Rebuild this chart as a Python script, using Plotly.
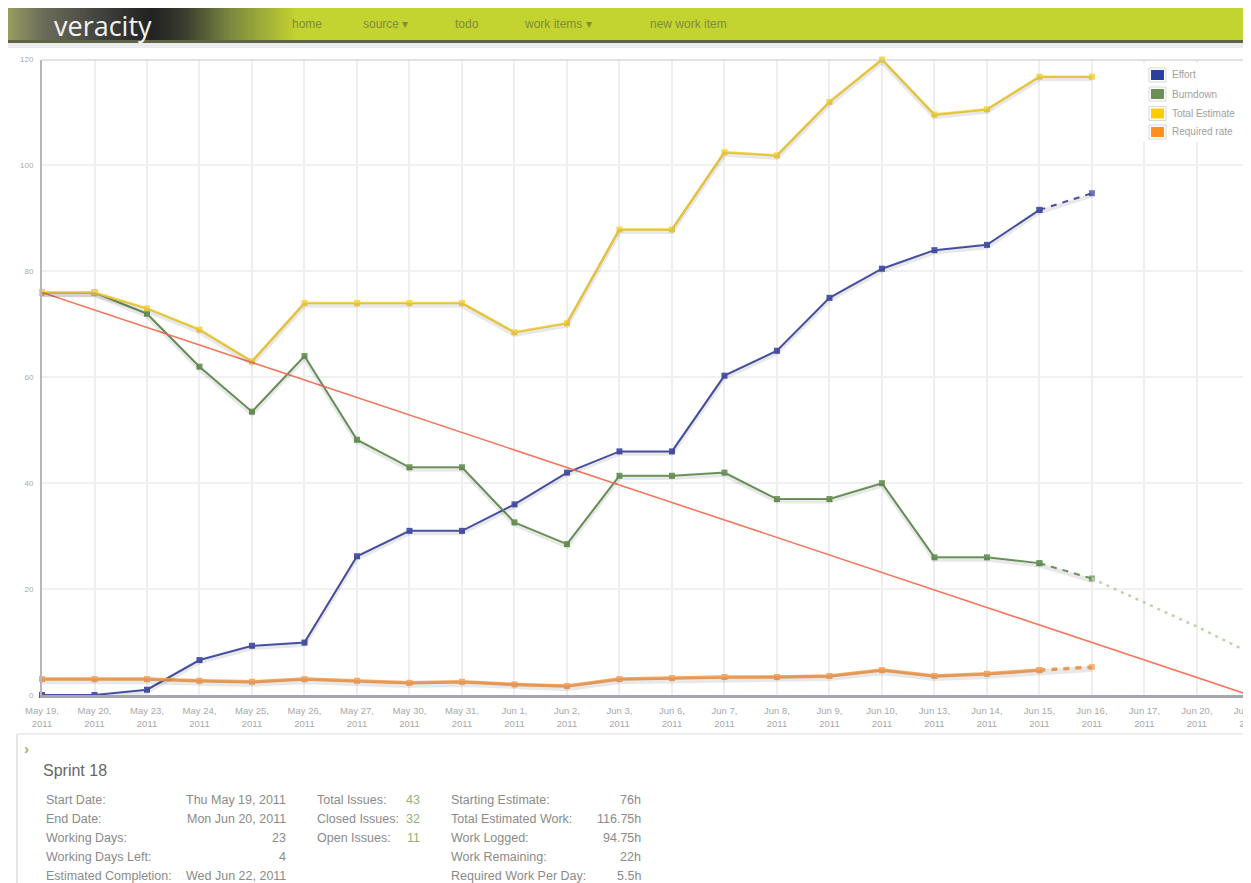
import numpy as np
import plotly.graph_objects as go

# The page body has an 8px margin, so the figure is laid out in page pixels
# and converted to figure-relative fractions.
OX, OY = 8, 8
PAGE_W, PAGE_H = 1251, 883
W, H = PAGE_W - OX, PAGE_H - OY

# ---------------- data ----------------
dates = ["May 19", "May 20", "May 23", "May 24", "May 25", "May 26", "May 27", "May 30", "May 31",
         "Jun 1", "Jun 2", "Jun 3", "Jun 6", "Jun 7", "Jun 8", "Jun 9", "Jun 10", "Jun 13", "Jun 14",
         "Jun 15", "Jun 16", "Jun 17", "Jun 20", "Jun 21"]
year = "2011"
effort = [0, 0, 1, 6.6, 9.3, 9.9, 26.2, 31, 31, 36, 42, 46, 46, 60.3, 65, 75, 80.5, 84, 85, 91.6, 94.75]
burndown = [76, 76, 72, 62, 53.5, 64, 48.2, 43, 43, 32.6, 28.5, 41.4, 41.4, 42, 37, 37, 40, 26, 26, 24.9, 22]
total_estimate = [76, 76, 73, 69, 63, 74, 74, 74, 74, 68.5, 70.2, 87.9, 87.9, 102.5, 101.9, 112, 120,
                  109.6, 110.6, 116.75, 116.75]
required_rate = [3, 3, 3, 2.7, 2.5, 3, 2.7, 2.3, 2.5, 2.0, 1.7, 3.0, 3.2, 3.4, 3.4, 3.6, 4.7, 3.6, 4.0, 4.7, 5.3]
projection_dates = ["Jun 16", "Jun 17", "Jun 20", "Jun 21"]
projection = [22, 17.5, 12.9, 8.0]
ideal_dates = ["May 19", "Jun 21"]
ideal = [76, 0]
y_ticks = [0, 20, 40, 60, 80, 100, 120]

legend_names = ["Effort", "Burndown", "Total Estimate", "Required rate"]
legend_colors = ["#2b3f9c", "#6b8f55", "#ffcc00", "#ff9020"]

sprint_title = "Sprint 18"
col1_labels = ["Start Date:", "End Date:", "Working Days:", "Working Days Left:", "Estimated Completion:"]
col1_values = ["Thu May 19, 2011", "Mon Jun 20, 2011", "23", "4", "Wed Jun 22, 2011"]
col2_labels = ["Total Issues:", "Closed Issues:", "Open Issues:"]
col2_values = ["43", "32", "11"]
col3_labels = ["Starting Estimate:", "Total Estimated Work:", "Work Logged:", "Work Remaining:",
               "Required Work Per Day:"]
col3_values = ["76h", "116.75h", "94.75h", "22h", "5.5h"]
menu_items = ["home", "source \u25BE", "todo", "work items \u25BE", "new work item"]
menu_x = [307, 386, 467, 558, 688]

# ---------------- helpers ----------------
def px(x):
    return (x - OX) / W


def py(y):
    return 1 - (y - OY) / H


FONT = "Liberation Sans, Arial, sans-serif"
n_solid = len(effort) - 1  # last point drawn dashed
solid_x = dates[:n_solid]
dash_x = dates[n_solid - 1:len(effort)]

series = [
    # name, values, color, width, dashed tail
    ("Effort", effort, "#4b55aa", 2, True),
    ("Burndown", burndown, "#6f9a5e", 2, True),
    ("Total Estimate", total_estimate, "#f8d64a", 2.5, False),
    ("Required rate", required_rate, "#f8a862", 3.5, True),
]

fig = go.Figure()

# shadows (same data on a slightly shifted overlay axis)
for name, vals, col, wdt, dashed in series:
    fig.add_trace(go.Scatter(x=dates[:len(vals)], y=vals, mode="lines", yaxis="y2",
                             line=dict(color="rgba(0,0,0,0.09)", width=wdt + 2.5),
                             hoverinfo="skip", showlegend=False, cliponaxis=False))

for name, vals, col, wdt, dashed in series:
    if dashed:
        fig.add_trace(go.Scatter(x=solid_x, y=vals[:n_solid], mode="lines+markers", name=name,
                                 line=dict(color=col, width=wdt),
                                 marker=dict(symbol="square", size=6, color=col),
                                 showlegend=False, cliponaxis=False))
        fig.add_trace(go.Scatter(x=dash_x, y=vals[n_solid - 1:], mode="lines+markers",
                                 line=dict(color=col, width=wdt, dash="6px,6px"),
                                 marker=dict(symbol="square", size=6, color=col, opacity=0.8),
                                 showlegend=False, cliponaxis=False))
    else:
        fig.add_trace(go.Scatter(x=dates[:len(vals)], y=vals, mode="lines+markers", name=name,
                                 line=dict(color=col, width=wdt),
                                 marker=dict(symbol="square", size=6, color=col),
                                 showlegend=False, cliponaxis=False))

# projection of burndown
fig.add_trace(go.Scatter(x=projection_dates, y=projection, mode="lines",
                         line=dict(color="#b9d5aa", width=2.5, dash="3px,5px"),
                         showlegend=False, cliponaxis=False))
# ideal line
fig.add_trace(go.Scatter(x=ideal_dates, y=ideal, mode="lines",
                         line=dict(color="#f4765e", width=1.6),
                         showlegend=False, cliponaxis=True))

shapes = []
annotations = []

# ---- header bar with gradient ----
stops_x = [8, 40, 110, 150, 185, 230, 295, PAGE_W]
stops_c = [(150, 156, 96), (110, 110, 92), (58, 58, 56), (34, 34, 34), (60, 63, 48),
           (125, 138, 64), (195, 211, 47), (195, 211, 47)]
xs = np.arange(8, 300, 3)
for x0 in xs:
    c = [int(np.interp(x0, stops_x, [s[i] for s in stops_c])) for i in range(3)]
    shapes.append(dict(type="rect", xref="paper", yref="paper", x0=px(x0), x1=px(x0 + 3.5),
                       y0=py(40), y1=py(8), fillcolor="rgb(%d,%d,%d)" % tuple(c), line_width=0))
shapes.append(dict(type="rect", xref="paper", yref="paper", x0=px(299), x1=1, y0=py(40), y1=py(8),
                   fillcolor="#c3d32f", line_width=0))
shapes.append(dict(type="rect", xref="paper", yref="paper", x0=px(8), x1=1, y0=py(43), y1=py(40),
                   fillcolor="#5f6546", line_width=0))
shapes.append(dict(type="rect", xref="paper", yref="paper", x0=px(8), x1=1, y0=py(48), y1=py(43),
                   fillcolor="#eaeced", line_width=0))

annotations.append(dict(text="veracity", x=px(103), y=py(25), xref="paper", yref="paper",
                        showarrow=False, xanchor="center", yanchor="middle",
                        font=dict(family="Open Sans, Liberation Sans, sans-serif", size=27, color="#f2f2f2")))
for t, mx in zip(menu_items, menu_x):
    annotations.append(dict(text=t, x=px(mx), y=py(24), xref="paper", yref="paper", showarrow=False,
                            xanchor="center", yanchor="middle",
                            font=dict(family=FONT, size=12, color="#7f8d3a")))

# ---- top plot border ----
shapes.append(dict(type="line", xref="paper", yref="y", x0=px(42), x1=1, y0=120, y1=120,
                   line=dict(color="#c6c6c6", width=2), layer="above"))

# ---- legend ----
leg_cy = [75, 94, 113.5, 132]
shapes.append(dict(type="rect", xref="paper", yref="paper", x0=px(1143), x1=1, y0=py(142), y1=py(63),
                   fillcolor="rgba(255,255,255,0.85)", line_width=0, layer="above"))
for name, col, cy in zip(legend_names, legend_colors, leg_cy):
    shapes.append(dict(type="rect", xref="paper", yref="paper", x0=px(1149), x1=px(1166),
                       y0=py(cy + 7), y1=py(cy - 7), fillcolor="white",
                       line=dict(color="#d8d8d8", width=1), layer="above"))
    shapes.append(dict(type="rect", xref="paper", yref="paper", x0=px(1151), x1=px(1164),
                       y0=py(cy + 5), y1=py(cy - 5), fillcolor=col, line_width=0, layer="above"))
    annotations.append(dict(text=name, x=px(1170), y=py(cy), xref="paper", yref="paper", showarrow=False,
                            xanchor="left", yanchor="middle", font=dict(family=FONT, size=10, color="#a0a0a0")))

# ---- bottom panel ----
shapes.append(dict(type="line", xref="paper", yref="paper", x0=px(17), x1=1, y0=py(734), y1=py(734),
                   line=dict(color="#eeeeee", width=2)))
shapes.append(dict(type="line", xref="paper", yref="paper", x0=px(17), x1=px(17), y0=py(734), y1=0,
                   line=dict(color="#e6e6e6", width=2)))
annotations.append(dict(text="<b>\u203A</b>", x=px(22), y=py(748), xref="paper", yref="paper", showarrow=False,
                        xanchor="left", yanchor="middle", font=dict(family=FONT, size=15, color="#9bb36c")))
annotations.append(dict(text=sprint_title, x=px(41), y=py(770), xref="paper", yref="paper", showarrow=False,
                        xanchor="left", yanchor="middle", font=dict(family=FONT, size=16, color="#666666")))
row_y = [800, 819, 838, 857, 876]
FS = 12.5
lab_font = dict(family=FONT, size=FS, color="#8a8a8a")
for i, (lab, val) in enumerate(zip(col1_labels, col1_values)):
    annotations.append(dict(text=lab, x=px(44), y=py(row_y[i]), xref="paper", yref="paper", showarrow=False,
                            xanchor="left", yanchor="middle", font=lab_font))
    annotations.append(dict(text=val, x=px(288), y=py(row_y[i]), xref="paper", yref="paper", showarrow=False,
                            xanchor="right", yanchor="middle", font=lab_font))
for i, (lab, val) in enumerate(zip(col2_labels, col2_values)):
    annotations.append(dict(text=lab, x=px(315), y=py(row_y[i]), xref="paper", yref="paper", showarrow=False,
                            xanchor="left", yanchor="middle", font=lab_font))
    annotations.append(dict(text=val, x=px(422), y=py(row_y[i]), xref="paper", yref="paper", showarrow=False,
                            xanchor="right", yanchor="middle",
                            font=dict(family=FONT, size=FS, color="#8fb375")))
for i, (lab, val) in enumerate(zip(col3_labels, col3_values)):
    annotations.append(dict(text=lab, x=px(449), y=py(row_y[i]), xref="paper", yref="paper", showarrow=False,
                            xanchor="left", yanchor="middle", font=lab_font))
    annotations.append(dict(text=val, x=px(643), y=py(row_y[i]), xref="paper", yref="paper", showarrow=False,
                            xanchor="right", yanchor="middle", font=lab_font))

# ---------------- layout ----------------
y_dom = [py(695), py(59.5)]
shadow_off = 0.4
fig.update_layout(
    width=W, height=H,
    margin=dict(l=0, r=0, t=0, b=0),
    paper_bgcolor="white", plot_bgcolor="white",
    showlegend=False,
    font=dict(family=FONT),
    xaxis=dict(type="category", categoryorder="array", categoryarray=dates,
               tickmode="array", tickvals=dates, ticktext=[d + ",<br>" + year for d in dates],
               range=[0, 23.03], domain=[px(42), 1.0],
               showgrid=True, gridcolor="#eeeef0", gridwidth=1.5,
               showline=True, linecolor="#a6a6ae", linewidth=3,
               ticks="", ticklabelstandoff=5, tickangle=0,
               tickfont=dict(size=9.5, color="#a8a8a8"),
               zeroline=False, automargin=False, fixedrange=True),
    yaxis=dict(range=[0, 120], domain=y_dom, tickmode="array", tickvals=y_ticks,
               showgrid=True, gridcolor="#f0f0f0", gridwidth=1.5,
               showline=True, linecolor="#b6b6be", linewidth=2,
               ticks="", ticklabelstandoff=5,
               tickfont=dict(size=8, color="#aaaaaa"),
               zeroline=False, automargin=False, fixedrange=True),
    yaxis2=dict(range=[shadow_off, 120 + shadow_off], overlaying="y", visible=False,
                fixedrange=True),
    shapes=shapes,
    annotations=annotations,
)

fig.write_html("out.html")
